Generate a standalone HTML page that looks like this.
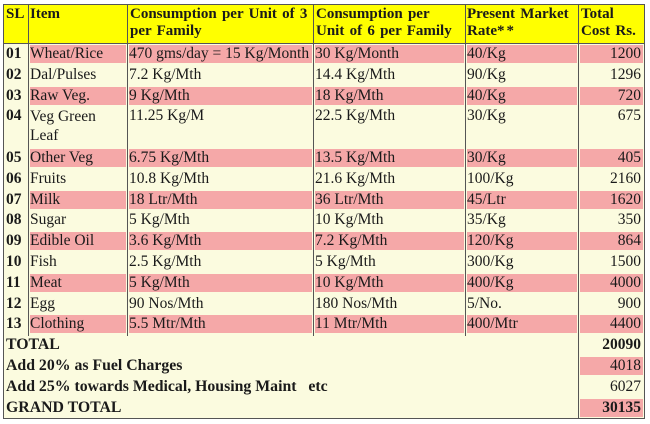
<!DOCTYPE html>
<html><head><meta charset="utf-8"><style>
html,body{margin:0;padding:0;background:#fff;}
#w{position:relative;width:650px;height:424px;overflow:hidden;background:#fff;font-family:"Liberation Serif","Times New Roman",serif;color:#1a1a1a;}
#t{position:absolute;left:3px;top:4px;width:640px;height:413px;border:1px solid #555;background:#fbfbdf;}
.a{position:absolute;}
.hd{position:absolute;top:5px;height:38px;background:#ffff00;}
.vl{position:absolute;width:1px;background:#555;}
.pk{position:absolute;height:18px;background:#f5a8a8;}
.tx{position:absolute;font-size:15.5px;line-height:20.8px;height:20.8px;white-space:nowrap;}
.b{font-weight:bold;}
.h{position:absolute;top:6px;font-size:15px;line-height:16.5px;font-weight:bold;color:#1a1a1a;word-spacing:1.5px;}
.r{text-align:right;}
.f{font-size:15.8px;}
</style></head><body><div id="w">
<div id="t"></div>
<!-- header yellow -->
<div class="hd" style="left:4px;width:640px;"></div>
<div class="a" style="left:4px;top:43px;width:640px;height:1px;background:#555;"></div>
<!-- vertical lines -->
<div class="vl" style="left:28px;top:5px;height:331px;"></div>
<div class="vl" style="left:127px;top:5px;height:331px;"></div>
<div class="vl" style="left:313px;top:5px;height:331px;"></div>
<div class="vl" style="left:465px;top:5px;height:331px;"></div>
<div class="vl" style="left:578px;top:5px;height:413px;"></div>
<!-- header text -->
<div class="h" style="left:6px;">SL</div>
<div class="h" style="left:30px;">Item</div>
<div class="h" style="left:130px;">Consumption per Unit of 3<br>per Family</div>
<div class="h" style="left:316px;">Consumption per<br>Unit of 6 per Family</div>
<div class="h" style="left:467px;">Present Market<br>Rate<span style="letter-spacing:2px">**</span></div>
<div class="h" style="left:581px;">Total<br>Cost Rs.</div>

<!-- pink bands -->
<div class="pk" style="top:45px;left:30px;width:96px;"></div><div class="pk" style="top:45px;left:129px;width:183px;"></div><div class="pk" style="top:45px;left:315px;width:149px;"></div><div class="pk" style="top:45px;left:467px;width:110px;"></div><div class="pk" style="top:45px;left:580px;width:63px;"></div>
<div class="pk" style="top:86.6px;left:30px;width:96px;"></div><div class="pk" style="top:86.6px;left:129px;width:183px;"></div><div class="pk" style="top:86.6px;left:315px;width:149px;"></div><div class="pk" style="top:86.6px;left:467px;width:110px;"></div><div class="pk" style="top:86.6px;left:580px;width:63px;"></div>
<div class="pk" style="top:149px;left:30px;width:96px;"></div><div class="pk" style="top:149px;left:129px;width:183px;"></div><div class="pk" style="top:149px;left:315px;width:149px;"></div><div class="pk" style="top:149px;left:467px;width:110px;"></div><div class="pk" style="top:149px;left:580px;width:63px;"></div>
<div class="pk" style="top:190.6px;left:30px;width:96px;"></div><div class="pk" style="top:190.6px;left:129px;width:183px;"></div><div class="pk" style="top:190.6px;left:315px;width:149px;"></div><div class="pk" style="top:190.6px;left:467px;width:110px;"></div><div class="pk" style="top:190.6px;left:580px;width:63px;"></div>
<div class="pk" style="top:232.2px;left:30px;width:96px;"></div><div class="pk" style="top:232.2px;left:129px;width:183px;"></div><div class="pk" style="top:232.2px;left:315px;width:149px;"></div><div class="pk" style="top:232.2px;left:467px;width:110px;"></div><div class="pk" style="top:232.2px;left:580px;width:63px;"></div>
<div class="pk" style="top:273.8px;left:30px;width:96px;"></div><div class="pk" style="top:273.8px;left:129px;width:183px;"></div><div class="pk" style="top:273.8px;left:315px;width:149px;"></div><div class="pk" style="top:273.8px;left:467px;width:110px;"></div><div class="pk" style="top:273.8px;left:580px;width:63px;"></div>
<div class="pk" style="top:315.4px;left:30px;width:96px;"></div><div class="pk" style="top:315.4px;left:129px;width:183px;"></div><div class="pk" style="top:315.4px;left:315px;width:149px;"></div><div class="pk" style="top:315.4px;left:467px;width:110px;"></div><div class="pk" style="top:315.4px;left:580px;width:63px;"></div>
<div class="pk" style="top:357px;left:580px;width:63px;"></div>
<div class="pk" style="top:398.6px;left:580px;width:63px;"></div>

<!-- rows -->
<div class="tx b" style="left:6px;top:44px;">01</div><div class="tx" style="left:30px;top:44px;">Wheat/Rice</div><div class="tx" style="left:129px;top:44px;">470 gms/day = 15 Kg/Month</div><div class="tx" style="left:315px;top:44px;">30 Kg/Month</div><div class="tx" style="left:467px;top:44px;">40/Kg</div><div class="tx r" style="left:580px;width:61px;top:44px;">1200</div>
<div class="tx b" style="left:6px;top:64.8px;">02</div><div class="tx" style="left:30px;top:64.8px;">Dal/Pulses</div><div class="tx" style="left:129px;top:64.8px;">7.2 Kg/Mth</div><div class="tx" style="left:315px;top:64.8px;">14.4 Kg/Mth</div><div class="tx" style="left:467px;top:64.8px;">90/Kg</div><div class="tx r" style="left:580px;width:61px;top:64.8px;">1296</div>
<div class="tx b" style="left:6px;top:85.6px;">03</div><div class="tx" style="left:30px;top:85.6px;">Raw Veg.</div><div class="tx" style="left:129px;top:85.6px;">9 Kg/Mth</div><div class="tx" style="left:315px;top:85.6px;">18 Kg/Mth</div><div class="tx" style="left:467px;top:85.6px;">40/Kg</div><div class="tx r" style="left:580px;width:61px;top:85.6px;">720</div>
<div class="tx b" style="left:6px;top:106.4px;">04</div><div class="tx" style="left:30px;top:108.4px;height:40px;line-height:18.5px;">Veg Green<br>Leaf</div><div class="tx" style="left:129px;top:106.4px;">11.25 Kg/M</div><div class="tx" style="left:315px;top:106.4px;">22.5 Kg/Mth</div><div class="tx" style="left:467px;top:106.4px;">30/Kg</div><div class="tx r" style="left:580px;width:61px;top:106.4px;">675</div>
<div class="tx b" style="left:6px;top:148px;">05</div><div class="tx" style="left:30px;top:148px;">Other Veg</div><div class="tx" style="left:129px;top:148px;">6.75 Kg/Mth</div><div class="tx" style="left:315px;top:148px;">13.5 Kg/Mth</div><div class="tx" style="left:467px;top:148px;">30/Kg</div><div class="tx r" style="left:580px;width:61px;top:148px;">405</div>
<div class="tx b" style="left:6px;top:168.8px;">06</div><div class="tx" style="left:30px;top:168.8px;">Fruits</div><div class="tx" style="left:129px;top:168.8px;">10.8 Kg/Mth</div><div class="tx" style="left:315px;top:168.8px;">21.6 Kg/Mth</div><div class="tx" style="left:467px;top:168.8px;">100/Kg</div><div class="tx r" style="left:580px;width:61px;top:168.8px;">2160</div>
<div class="tx b" style="left:6px;top:189.6px;">07</div><div class="tx" style="left:30px;top:189.6px;">Milk</div><div class="tx" style="left:129px;top:189.6px;">18 Ltr/Mth</div><div class="tx" style="left:315px;top:189.6px;">36 Ltr/Mth</div><div class="tx" style="left:467px;top:189.6px;">45/Ltr</div><div class="tx r" style="left:580px;width:61px;top:189.6px;">1620</div>
<div class="tx b" style="left:6px;top:210.4px;">08</div><div class="tx" style="left:30px;top:210.4px;">Sugar</div><div class="tx" style="left:129px;top:210.4px;">5 Kg/Mth</div><div class="tx" style="left:315px;top:210.4px;">10 Kg/Mth</div><div class="tx" style="left:467px;top:210.4px;">35/Kg</div><div class="tx r" style="left:580px;width:61px;top:210.4px;">350</div>
<div class="tx b" style="left:6px;top:231.2px;">09</div><div class="tx" style="left:30px;top:231.2px;">Edible Oil</div><div class="tx" style="left:129px;top:231.2px;">3.6 Kg/Mth</div><div class="tx" style="left:315px;top:231.2px;">7.2 Kg/Mth</div><div class="tx" style="left:467px;top:231.2px;">120/Kg</div><div class="tx r" style="left:580px;width:61px;top:231.2px;">864</div>
<div class="tx b" style="left:6px;top:252px;">10</div><div class="tx" style="left:30px;top:252px;">Fish</div><div class="tx" style="left:129px;top:252px;">2.5 Kg/Mth</div><div class="tx" style="left:315px;top:252px;">5 Kg/Mth</div><div class="tx" style="left:467px;top:252px;">300/Kg</div><div class="tx r" style="left:580px;width:61px;top:252px;">1500</div>
<div class="tx b" style="left:6px;top:272.8px;">11</div><div class="tx" style="left:30px;top:272.8px;">Meat</div><div class="tx" style="left:129px;top:272.8px;">5 Kg/Mth</div><div class="tx" style="left:315px;top:272.8px;">10 Kg/Mth</div><div class="tx" style="left:467px;top:272.8px;">400/Kg</div><div class="tx r" style="left:580px;width:61px;top:272.8px;">4000</div>
<div class="tx b" style="left:6px;top:293.6px;">12</div><div class="tx" style="left:30px;top:293.6px;">Egg</div><div class="tx" style="left:129px;top:293.6px;">90 Nos/Mth</div><div class="tx" style="left:315px;top:293.6px;">180 Nos/Mth</div><div class="tx" style="left:467px;top:293.6px;">5/No.</div><div class="tx r" style="left:580px;width:61px;top:293.6px;">900</div>
<div class="tx b" style="left:6px;top:314.4px;">13</div><div class="tx" style="left:30px;top:314.4px;">Clothing</div><div class="tx" style="left:129px;top:314.4px;">5.5 Mtr/Mth</div><div class="tx" style="left:315px;top:314.4px;">11 Mtr/Mth</div><div class="tx" style="left:467px;top:314.4px;">400/Mtr</div><div class="tx r" style="left:580px;width:61px;top:314.4px;">4400</div>

<div class="tx b f" style="left:6px;top:335.2px;">TOTAL</div><div class="tx r b" style="left:580px;width:61px;top:335.2px;">20090</div>
<div class="tx b f" style="left:6px;top:356px;">Add 20% as Fuel Charges</div><div class="tx r" style="left:580px;width:61px;top:356px;">4018</div>
<div class="tx b f" style="left:6px;top:376.8px;">Add 25% towards Medical, Housing Maint&nbsp;&nbsp; etc</div><div class="tx r" style="left:580px;width:61px;top:376.8px;">6027</div>
<div class="tx b f" style="left:6px;top:397.6px;">GRAND TOTAL</div><div class="tx r b" style="left:580px;width:61px;top:397.6px;">30135</div>
</div></body></html>
